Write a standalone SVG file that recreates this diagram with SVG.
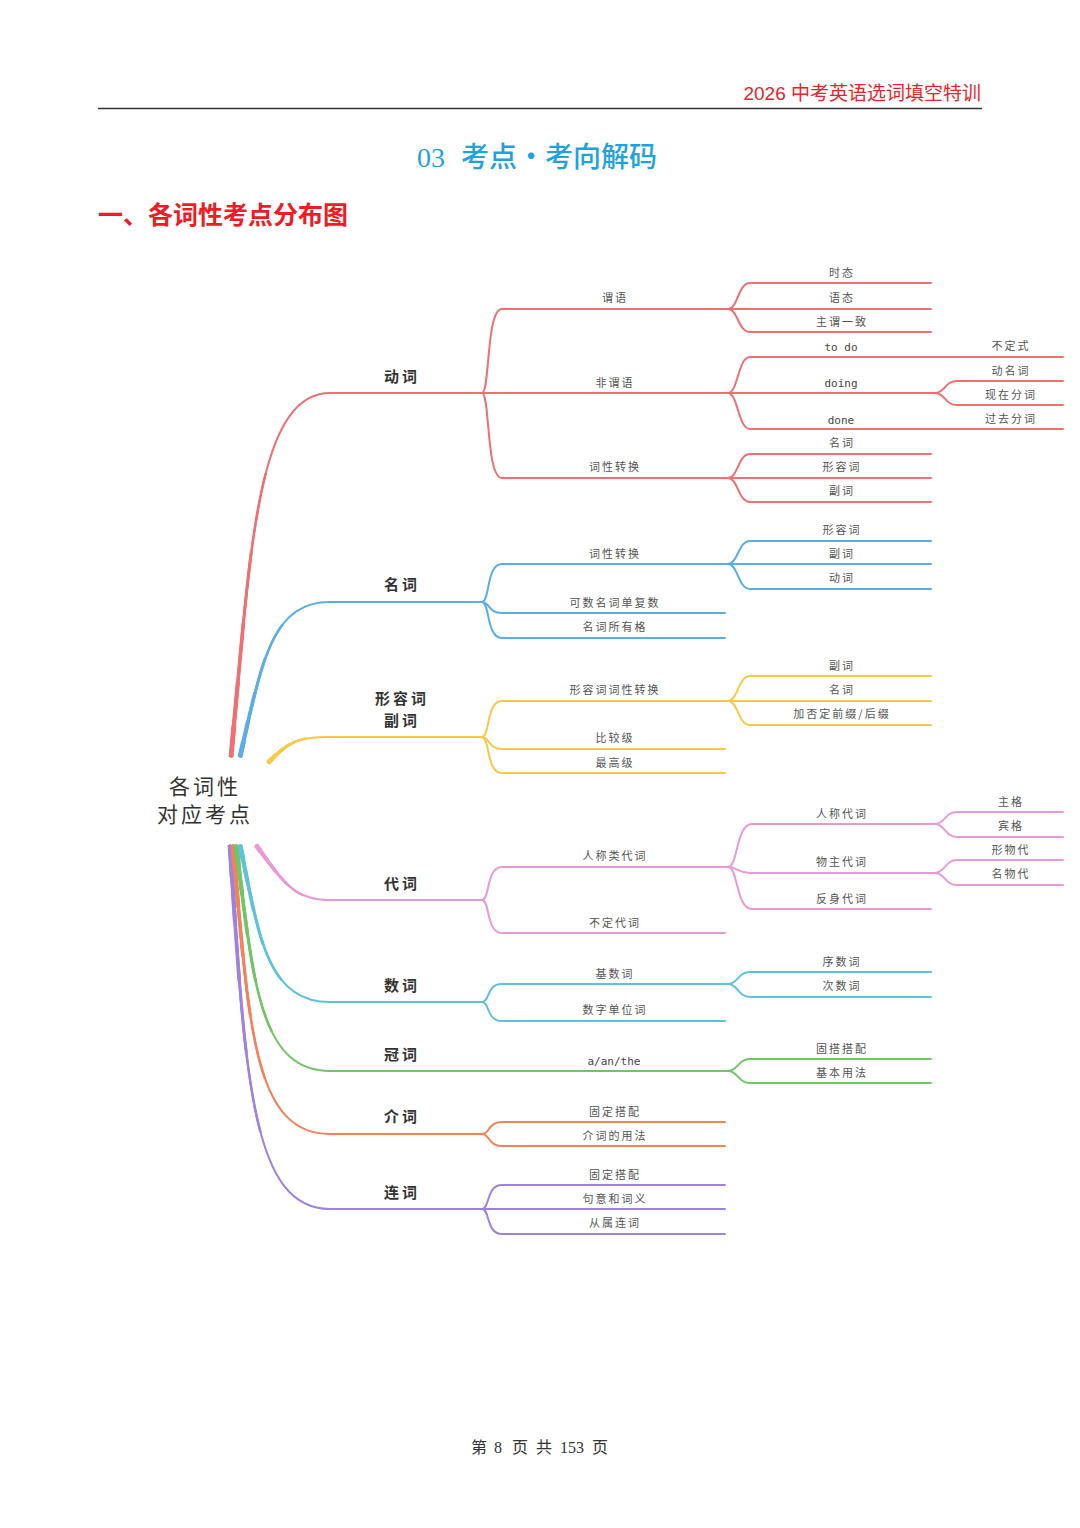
<svg xmlns="http://www.w3.org/2000/svg" xmlns:xlink="http://www.w3.org/1999/xlink" width="1080" height="1528" viewBox="0 0 1080 1528">
<style>
.bg{fill:#fff}
.c{fill:none;stroke-linecap:round;stroke-linejoin:round}
.w1{stroke-width:2}
.k1{fill:none;stroke-width:2.5;stroke-dasharray:72 1000;stroke-linecap:butt}
.k2{fill:none;stroke-width:3.0;stroke-dasharray:52 1000;stroke-linecap:butt}
.k3{fill:none;stroke-width:3.6;stroke-dasharray:34 1000;stroke-linecap:butt}
.k4{fill:none;stroke-width:4.2;stroke-dasharray:19 1000;stroke-linecap:butt}
.k5{fill:none;stroke-width:4.8;stroke-dasharray:8 1000;stroke-linecap:butt}
.red{stroke:#ef6f72}.blue{stroke:#5aaee6}.yel{stroke:#f7c948}.pink{stroke:#e99ad6}
.cyan{stroke:#5ec2dc}.grn{stroke:#72c566}.org{stroke:#f2825a}.pur{stroke:#9d82e0}
.root{font-family:"Noto Sans CJK SC","Noto Sans",sans-serif;font-size:21px;fill:#333;letter-spacing:3px;text-anchor:middle}
.m{font-family:"Noto Sans CJK SC","Noto Sans",sans-serif;font-size:15px;fill:#333;font-weight:bold;letter-spacing:3px;text-anchor:middle}
.s{font-family:"Noto Sans CJK SC","Noto Sans",sans-serif;font-size:11px;fill:#555;letter-spacing:2px;text-anchor:middle}
.e{font-family:"DejaVu Sans Mono","Liberation Mono",monospace;font-size:11px;fill:#444;text-anchor:middle}
.ft{font-family:"Liberation Serif","Noto Sans CJK SC",serif;font-size:16px;fill:#333}
</style>
<defs>
<path id="mr" pathLength="100" d="M231,757 C250,560 255,393 330,393"/>
<path id="mb" pathLength="100" d="M240,757 C262,660 272,602 330,602"/>
<path id="my" pathLength="100" d="M268,763 C285,745 295,737 325,737"/>
<path id="mp" pathLength="100" d="M256,845 C285,885 295,900 330,900"/>
<path id="mc" pathLength="100" d="M240,845 C258,930 265,1002 330,1002"/>
<path id="mg" pathLength="100" d="M236,845 C253,980 259,1071 330,1071"/>
<path id="mo" pathLength="100" d="M233,845 C249,1030 254,1134 330,1134"/>
<path id="mu" pathLength="100" d="M230,845 C245,1080 252,1209 330,1209"/>
</defs>
<rect class="bg" x="0" y="0" width="1080" height="1528"/>

<g id="page-header">
<text x="981" y="100" text-anchor="end" font-family="Liberation Sans,'Noto Sans CJK SC',sans-serif" font-size="19" fill="#e8232a">2026 中考英语选词填空特训</text>
<line x1="98" y1="108.5" x2="982" y2="108.5" stroke="#333" stroke-width="1.5"/>
<text y="167" font-size="28" fill="#1ea3dc"><tspan x="417" font-family="'Liberation Serif',serif">03</tspan><tspan x="461" font-family="'Noto Sans CJK SC',sans-serif" font-weight="500">考点·考向解码</tspan></text>
<text x="98" y="224" font-family="'Noto Sans CJK SC',sans-serif" font-size="25" font-weight="bold" fill="#ee1c25">一、各词性考点分布图</text>
</g>

<g id="connectors">
<g id="main-branches">
<path class="c w1 red" d="M231,757 C250,560 255,393 330,393 L482,393"/>
<g class="red"><use xlink:href="#mr" class="k1"/><use xlink:href="#mr" class="k2"/><use xlink:href="#mr" class="k3"/><use xlink:href="#mr" class="k4"/><use xlink:href="#mr" class="k5"/></g>

<path class="c w1 blue" d="M240,757 C262,660 272,602 330,602 L482,602"/>
<g class="blue"><use xlink:href="#mb" class="k1"/><use xlink:href="#mb" class="k2"/><use xlink:href="#mb" class="k3"/><use xlink:href="#mb" class="k4"/><use xlink:href="#mb" class="k5"/></g>

<path class="c w1 yel" d="M268,763 C285,745 295,737 325,737 L482,737"/>
<g class="yel"><use xlink:href="#my" class="k1"/><use xlink:href="#my" class="k2"/><use xlink:href="#my" class="k3"/><use xlink:href="#my" class="k4"/><use xlink:href="#my" class="k5"/></g>

<path class="c w1 pink" d="M256,845 C285,885 295,900 330,900 L482,900"/>
<g class="pink"><use xlink:href="#mp" class="k1"/><use xlink:href="#mp" class="k2"/><use xlink:href="#mp" class="k3"/><use xlink:href="#mp" class="k4"/><use xlink:href="#mp" class="k5"/></g>

<path class="c w1 pur" d="M230,845 C245,1080 252,1209 330,1209 L482,1209"/>
<g class="pur"><use xlink:href="#mu" class="k1"/><use xlink:href="#mu" class="k2"/><use xlink:href="#mu" class="k3"/><use xlink:href="#mu" class="k4"/><use xlink:href="#mu" class="k5"/></g>

<path class="c w1 org" d="M233,845 C249,1030 254,1134 330,1134 L482,1134"/>
<g class="org"><use xlink:href="#mo" class="k1"/><use xlink:href="#mo" class="k2"/><use xlink:href="#mo" class="k3"/><use xlink:href="#mo" class="k4"/><use xlink:href="#mo" class="k5"/></g>

<path class="c w1 grn" d="M236,845 C253,980 259,1071 330,1071 L725,1071"/>
<g class="grn"><use xlink:href="#mg" class="k1"/><use xlink:href="#mg" class="k2"/><use xlink:href="#mg" class="k3"/><use xlink:href="#mg" class="k4"/><use xlink:href="#mg" class="k5"/></g>

<path class="c w1 cyan" d="M240,845 C258,930 265,1002 330,1002 L482,1002"/>
<g class="cyan"><use xlink:href="#mc" class="k1"/><use xlink:href="#mc" class="k2"/><use xlink:href="#mc" class="k3"/><use xlink:href="#mc" class="k4"/><use xlink:href="#mc" class="k5"/></g>
</g>

<g id="c-verb" class="c w1 red">
<path d="M482,393 C490,393 486,309 502,309 L725,309"/>
<path d="M482,393 L725,393"/>
<path d="M482,393 C490,393 486,478 502,478 L725,478"/>
<path d="M725,309 L728,309 C738,309 738,283 750,283 L931,283"/>
<path d="M728,309 L931,309"/>
<path d="M728,309 C738,309 738,332 750,332 L931,332"/>
<path d="M725,393 L728,393 C738,393 738,357 750,357 L1063,357"/>
<path d="M728,393 L935,393"/>
<path d="M728,393 C738,393 738,429 750,429 L1063,429"/>
<path d="M935,393 C945,393 945,381 957,381 L1063,381"/>
<path d="M935,393 C945,393 945,405 957,405 L1063,405"/>
<path d="M725,478 L728,478 C738,478 738,454 750,454 L931,454"/>
<path d="M728,478 L931,478"/>
<path d="M728,478 C738,478 738,502 750,502 L931,502"/>
</g>

<g id="c-noun" class="c w1 blue">
<path d="M482,602 C490,602 486,564 502,564 L728,564"/>
<path d="M482,602 C490,602 488,613 502,613 L725,613"/>
<path d="M482,602 C490,602 486,638 502,638 L725,638"/>
<path d="M728,564 C738,564 738,541 750,541 L931,541"/>
<path d="M728,564 L931,564"/>
<path d="M728,564 C738,564 738,589 750,589 L931,589"/>
</g>

<g id="c-adj" class="c w1 yel">
<path d="M482,737 C490,737 486,701 502,701 L728,701"/>
<path d="M482,737 C490,737 488,749 502,749 L725,749"/>
<path d="M482,737 C490,737 486,773 502,773 L725,773"/>
<path d="M728,701 C738,701 738,676 750,676 L931,676"/>
<path d="M728,701 L931,701"/>
<path d="M728,701 C738,701 738,725 750,725 L931,725"/>
</g>

<g id="c-pron" class="c w1 pink">
<path d="M482,900 C490,900 486,867 502,867 L728,867"/>
<path d="M482,900 C490,900 486,933 502,933 L725,933"/>
<path d="M728,867 C738,867 736,824 752,824 L935,824"/>
<path d="M728,867 C738,867 738,873 750,873 L935,873"/>
<path d="M728,867 C738,867 736,909 752,909 L931,909"/>
<path d="M935,824 C945,824 945,812 957,812 L1063,812"/>
<path d="M935,824 C945,824 945,837 957,837 L1063,837"/>
<path d="M935,873 C945,873 945,860 957,860 L1063,860"/>
<path d="M935,873 C945,873 945,885 957,885 L1063,885"/>
</g>

<g id="c-num" class="c w1 cyan">
<path d="M482,1002 C490,1002 486,984 502,984 L728,984"/>
<path d="M482,1002 C490,1002 486,1021 502,1021 L725,1021"/>
<path d="M728,984 C738,984 738,972 750,972 L931,972"/>
<path d="M728,984 C738,984 738,997 750,997 L931,997"/>
</g>

<g id="c-art" class="c w1 grn">
<path d="M725,1071 L728,1071 C738,1071 738,1059 750,1059 L931,1059"/>
<path d="M728,1071 C738,1071 738,1083 750,1083 L931,1083"/>
</g>

<g id="c-prep" class="c w1 org">
<path d="M482,1134 C490,1134 488,1122 502,1122 L725,1122"/>
<path d="M482,1134 C490,1134 488,1146 502,1146 L725,1146"/>
</g>

<g id="c-conj" class="c w1 pur">
<path d="M482,1209 C490,1209 486,1185 502,1185 L725,1185"/>
<path d="M482,1209 L725,1209"/>
<path d="M482,1209 C490,1209 486,1234 502,1234 L725,1234"/>
</g>
</g>

<g id="n-root"><text class="root" x="205" y="794">各词性</text><text class="root" x="205" y="822">对应考点</text></g>

<g id="n-verb"><text class="m" x="402" y="382">动词</text></g>
<g id="n-weiyu"><text class="s" x="615" y="302">谓语</text></g>
<g id="n-shitai"><text class="s" x="842" y="277">时态</text></g>
<g id="n-yutai"><text class="s" x="842" y="302">语态</text></g>
<g id="n-zhuwei"><text class="s" x="842" y="326">主谓一致</text></g>
<g id="n-feiweiyu"><text class="s" x="615" y="387">非谓语</text></g>
<g id="n-todo"><text class="e" x="841" y="351">to do</text></g>
<g id="n-buding"><text class="s" x="1011" y="350">不定式</text></g>
<g id="n-doing"><text class="e" x="841" y="387">doing</text></g>
<g id="n-dongming"><text class="s" x="1011" y="375">动名词</text></g>
<g id="n-xianzai"><text class="s" x="1011" y="399">现在分词</text></g>
<g id="n-done"><text class="e" x="841" y="424">done</text></g>
<g id="n-guoqu"><text class="s" x="1011" y="423">过去分词</text></g>
<g id="n-verb-conv"><text class="s" x="615" y="471">词性转换</text></g>
<g id="n-v-noun"><text class="s" x="842" y="447">名词</text></g>
<g id="n-v-adj"><text class="s" x="842" y="471">形容词</text></g>
<g id="n-v-adv"><text class="s" x="842" y="495">副词</text></g>

<g id="n-noun"><text class="m" x="402" y="590">名词</text></g>
<g id="n-noun-conv"><text class="s" x="615" y="558">词性转换</text></g>
<g id="n-n-adj"><text class="s" x="842" y="534">形容词</text></g>
<g id="n-n-adv"><text class="s" x="842" y="558">副词</text></g>
<g id="n-n-verb"><text class="s" x="842" y="582">动词</text></g>
<g id="n-countable"><text class="s" x="615" y="607">可数名词单复数</text></g>
<g id="n-possessive"><text class="s" x="615" y="631">名词所有格</text></g>

<g id="n-adj"><text class="m" x="402" y="704">形容词</text><text class="m" x="402" y="726">副词</text></g>
<g id="n-adj-conv"><text class="s" x="615" y="694">形容词词性转换</text></g>
<g id="n-a-adv"><text class="s" x="842" y="670">副词</text></g>
<g id="n-a-noun"><text class="s" x="842" y="694">名词</text></g>
<g id="n-a-prefix"><text class="s" x="842" y="718">加否定前缀/后缀</text></g>
<g id="n-comp"><text class="s" x="615" y="742">比较级</text></g>
<g id="n-super"><text class="s" x="615" y="767">最高级</text></g>

<g id="n-pron"><text class="m" x="402" y="889">代词</text></g>
<g id="n-personal-type"><text class="s" x="615" y="860">人称类代词</text></g>
<g id="n-personal"><text class="s" x="842" y="818">人称代词</text></g>
<g id="n-zhuge"><text class="s" x="1011" y="806">主格</text></g>
<g id="n-binge"><text class="s" x="1011" y="830">宾格</text></g>
<g id="n-possess"><text class="s" x="842" y="866">物主代词</text></g>
<g id="n-xingwu"><text class="s" x="1011" y="854">形物代</text></g>
<g id="n-mingwu"><text class="s" x="1011" y="878">名物代</text></g>
<g id="n-reflexive"><text class="s" x="842" y="903">反身代词</text></g>
<g id="n-indef"><text class="s" x="615" y="927">不定代词</text></g>

<g id="n-num"><text class="m" x="402" y="991">数词</text></g>
<g id="n-cardinal"><text class="s" x="615" y="978">基数词</text></g>
<g id="n-ordinal"><text class="s" x="842" y="966">序数词</text></g>
<g id="n-times"><text class="s" x="842" y="990">次数词</text></g>
<g id="n-unit"><text class="s" x="615" y="1014">数字单位词</text></g>

<g id="n-art"><text class="m" x="402" y="1060">冠词</text></g>
<g id="n-aanthe"><text class="e" x="614" y="1065">a/an/the</text></g>
<g id="n-gudada"><text class="s" x="842" y="1053">固搭搭配</text></g>
<g id="n-basic"><text class="s" x="842" y="1077">基本用法</text></g>

<g id="n-prep"><text class="m" x="402" y="1122">介词</text></g>
<g id="n-p-fixed"><text class="s" x="615" y="1116">固定搭配</text></g>
<g id="n-p-usage"><text class="s" x="615" y="1140">介词的用法</text></g>

<g id="n-conj"><text class="m" x="402" y="1198">连词</text></g>
<g id="n-c-fixed"><text class="s" x="615" y="1179">固定搭配</text></g>
<g id="n-c-meaning"><text class="s" x="615" y="1203">句意和词义</text></g>
<g id="n-c-sub"><text class="s" x="615" y="1227">从属连词</text></g>

<g id="page-footer">
<text class="ft" y="1453"><tspan x="471">第</tspan><tspan x="494">8</tspan><tspan x="512">页</tspan><tspan x="536">共</tspan><tspan x="560">153</tspan><tspan x="592">页</tspan></text>
</g>
</svg>
